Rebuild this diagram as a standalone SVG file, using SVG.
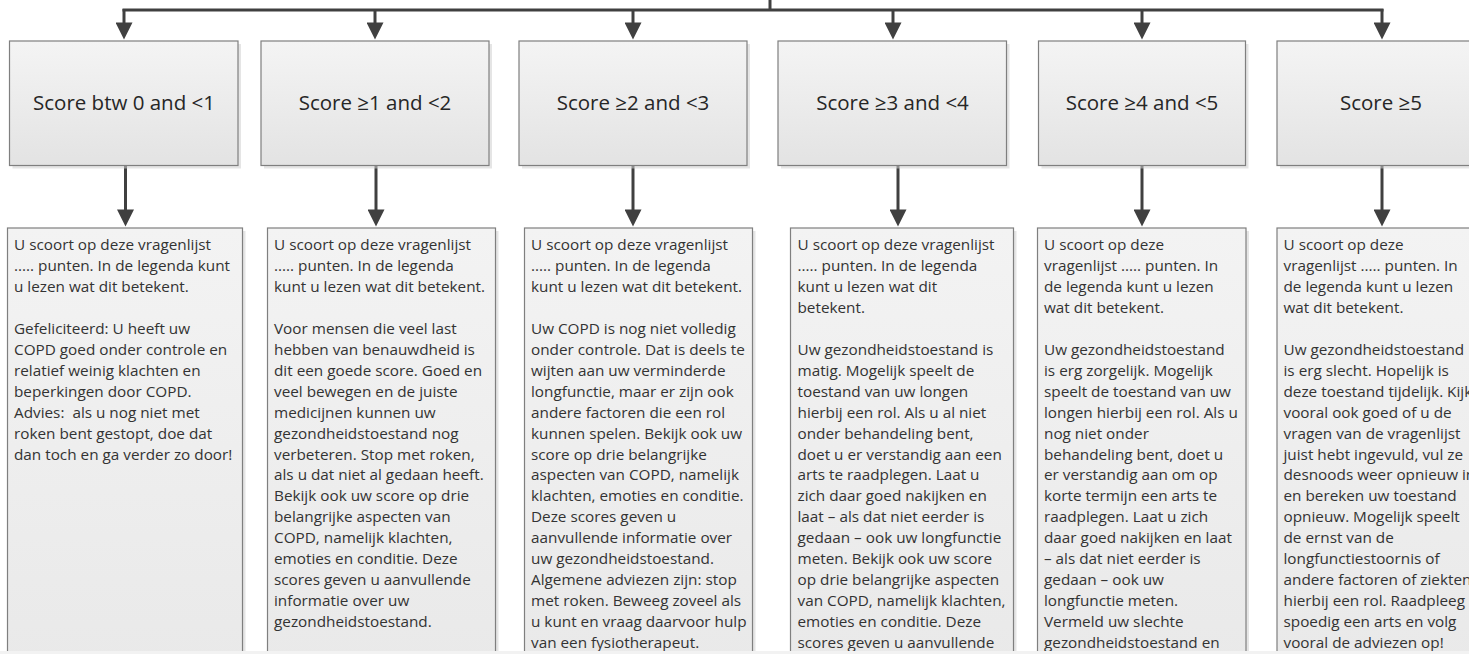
<svg xmlns="http://www.w3.org/2000/svg" width="1469" height="654" viewBox="0 0 1469 654">
<defs>
<linearGradient id="gHead" x1="0" y1="0" x2="0" y2="1">
<stop offset="0" stop-color="#f4f4f4"/>
<stop offset="1" stop-color="#e3e3e3"/>
</linearGradient>
<linearGradient id="gBody" x1="0" y1="0" x2="0" y2="1">
<stop offset="0" stop-color="#f3f3f3"/>
<stop offset="1" stop-color="#e9e9e9"/>
</linearGradient>
<marker id="ah" viewBox="0 0 10 10" refX="5.6" refY="5" markerWidth="18" markerHeight="17" markerUnits="userSpaceOnUse" orient="auto">
<path d="M0,0 L10,5 L0,10 z" fill="#404040"/>
</marker>
</defs>
<style>
.shadow{fill:#cfcfcf;opacity:0.55}
.head{fill:url(#gHead);stroke:#7f7f7f;stroke-width:1.2}
.body{fill:url(#gBody);stroke:#7f7f7f;stroke-width:1.2}
.lbl{font-family:"Open Sans","Liberation Sans",sans-serif;font-size:20.5px;fill:#262626;text-anchor:middle}
.txt{font-family:"Open Sans","Liberation Sans",sans-serif;font-size:15.3px;fill:#333333}
.con{fill:none;stroke:#404040;stroke-width:3}
</style>
<rect width="1469" height="654" fill="#ffffff"/>

<g id="connectors">
<path class="con" d="M770,0 V10"/>
<path class="con" d="M124,10 H1382" stroke-linecap="square"/>
<path class="con" d="M124,9 V32" marker-end="url(#ah)"/>
<path class="con" d="M375,10 V32" marker-end="url(#ah)"/>
<path class="con" d="M633,10 V32" marker-end="url(#ah)"/>
<path class="con" d="M893,10 V32" marker-end="url(#ah)"/>
<path class="con" d="M1142,10 V32" marker-end="url(#ah)"/>
<path class="con" d="M1382,9 V32" marker-end="url(#ah)"/>
<path class="con" d="M125.5,166 V219" marker-end="url(#ah)"/>
<path class="con" d="M376,166 V219" marker-end="url(#ah)"/>
<path class="con" d="M633,166 V219" marker-end="url(#ah)"/>
<path class="con" d="M898,166 V219" marker-end="url(#ah)"/>
<path class="con" d="M1142,166 V219" marker-end="url(#ah)"/>
<path class="con" d="M1382,166 V219" marker-end="url(#ah)"/>
</g>

<g id="score1">
<rect class="shadow" x="12.5" y="44" width="228.5" height="124.5"/>
<rect class="head" x="9.5" y="41" width="228.5" height="124.5"/>
<text class="lbl" x="124" y="110">Score btw 0 and &lt;1</text>
</g>
<g id="score2">
<rect class="shadow" x="264" y="44" width="228" height="124.5"/>
<rect class="head" x="261" y="41" width="228" height="124.5"/>
<text class="lbl" x="375" y="110">Score ≥1 and &lt;2</text>
</g>
<g id="score3">
<rect class="shadow" x="522" y="44" width="228" height="124.5"/>
<rect class="head" x="519" y="41" width="228" height="124.5"/>
<text class="lbl" x="633" y="110">Score ≥2 and &lt;3</text>
</g>
<g id="score4">
<rect class="shadow" x="781" y="44" width="228.5" height="124.5"/>
<rect class="head" x="778" y="41" width="228.5" height="124.5"/>
<text class="lbl" x="892.5" y="110">Score ≥3 and &lt;4</text>
</g>
<g id="score5">
<rect class="shadow" x="1041.5" y="44" width="207" height="124.5"/>
<rect class="head" x="1038.5" y="41" width="207" height="124.5"/>
<text class="lbl" x="1142" y="110">Score ≥4 and &lt;5</text>
</g>
<g id="score6">
<rect class="shadow" x="1280" y="44" width="208" height="124.5"/>
<rect class="head" x="1277" y="41" width="208" height="124.5"/>
<text class="lbl" x="1381" y="110">Score ≥5</text>
</g>

<g id="advice1">
<rect class="shadow" x="10.5" y="231" width="235" height="440"/>
<rect class="body" x="7.5" y="228" width="235" height="440"/>
<text class="txt">
<tspan x="14" y="250">U scoort op deze vragenlijst</tspan>
<tspan x="14" dy="20.95">..... punten. In de legenda kunt</tspan>
<tspan x="14" dy="20.95">u lezen wat dit betekent.</tspan>
<tspan x="14" dy="41.9">Gefeliciteerd: U heeft uw</tspan>
<tspan x="14" dy="20.95">COPD goed onder controle en</tspan>
<tspan x="14" dy="20.95">relatief weinig klachten en</tspan>
<tspan x="14" dy="20.95">beperkingen door COPD.</tspan>
<tspan x="14" dy="20.95">Advies:&#160; als u nog niet met</tspan>
<tspan x="14" dy="20.95">roken bent gestopt, doe dat</tspan>
<tspan x="14" dy="20.95">dan toch en ga verder zo door!</tspan>
</text>
</g>

<g id="advice2">
<rect class="shadow" x="270.5" y="231" width="228" height="440"/>
<rect class="body" x="267.5" y="228" width="228" height="440"/>
<text class="txt">
<tspan x="274" y="250">U scoort op deze vragenlijst</tspan>
<tspan x="274" dy="20.95">..... punten. In de legenda</tspan>
<tspan x="274" dy="20.95">kunt u lezen wat dit betekent.</tspan>
<tspan x="274" dy="41.9">Voor mensen die veel last</tspan>
<tspan x="274" dy="20.95">hebben van benauwdheid is</tspan>
<tspan x="274" dy="20.95">dit een goede score. Goed en</tspan>
<tspan x="274" dy="20.95">veel bewegen en de juiste</tspan>
<tspan x="274" dy="20.95">medicijnen kunnen uw</tspan>
<tspan x="274" dy="20.95">gezondheidstoestand nog</tspan>
<tspan x="274" dy="20.95">verbeteren. Stop met roken,</tspan>
<tspan x="274" dy="20.95">als u dat niet al gedaan heeft.</tspan>
<tspan x="274" dy="20.95">Bekijk ook uw score op drie</tspan>
<tspan x="274" dy="20.95">belangrijke aspecten van</tspan>
<tspan x="274" dy="20.95">COPD, namelijk klachten,</tspan>
<tspan x="274" dy="20.95">emoties en conditie. Deze</tspan>
<tspan x="274" dy="20.95">scores geven u aanvullende</tspan>
<tspan x="274" dy="20.95">informatie over uw</tspan>
<tspan x="274" dy="20.95">gezondheidstoestand.</tspan>
</text>
</g>

<g id="advice3">
<rect class="shadow" x="527.5" y="231" width="228" height="440"/>
<rect class="body" x="524.5" y="228" width="228" height="440"/>
<text class="txt">
<tspan x="531" y="250">U scoort op deze vragenlijst</tspan>
<tspan x="531" dy="20.95">..... punten. In de legenda</tspan>
<tspan x="531" dy="20.95">kunt u lezen wat dit betekent.</tspan>
<tspan x="531" dy="41.9">Uw COPD is nog niet volledig</tspan>
<tspan x="531" dy="20.95">onder controle. Dat is deels te</tspan>
<tspan x="531" dy="20.95">wijten aan uw verminderde</tspan>
<tspan x="531" dy="20.95">longfunctie, maar er zijn ook</tspan>
<tspan x="531" dy="20.95">andere factoren die een rol</tspan>
<tspan x="531" dy="20.95">kunnen spelen. Bekijk ook uw</tspan>
<tspan x="531" dy="20.95">score op drie belangrijke</tspan>
<tspan x="531" dy="20.95">aspecten van COPD, namelijk</tspan>
<tspan x="531" dy="20.95">klachten, emoties en conditie.</tspan>
<tspan x="531" dy="20.95">Deze scores geven u</tspan>
<tspan x="531" dy="20.95">aanvullende informatie over</tspan>
<tspan x="531" dy="20.95">uw gezondheidstoestand.</tspan>
<tspan x="531" dy="20.95">Algemene adviezen zijn: stop</tspan>
<tspan x="531" dy="20.95">met roken. Beweeg zoveel als</tspan>
<tspan x="531" dy="20.95">u kunt en vraag daarvoor hulp</tspan>
<tspan x="531" dy="20.95">van een fysiotherapeut.</tspan>
</text>
</g>

<g id="advice4">
<rect class="shadow" x="793.5" y="231" width="223" height="440"/>
<rect class="body" x="790.5" y="228" width="223" height="440"/>
<text class="txt">
<tspan x="797.5" y="250">U scoort op deze vragenlijst</tspan>
<tspan x="797.5" dy="20.95">..... punten. In de legenda</tspan>
<tspan x="797.5" dy="20.95">kunt u lezen wat dit</tspan>
<tspan x="797.5" dy="20.95">betekent.</tspan>
<tspan x="797.5" dy="41.9">Uw gezondheidstoestand is</tspan>
<tspan x="797.5" dy="20.95">matig. Mogelijk speelt de</tspan>
<tspan x="797.5" dy="20.95">toestand van uw longen</tspan>
<tspan x="797.5" dy="20.95">hierbij een rol. Als u al niet</tspan>
<tspan x="797.5" dy="20.95">onder behandeling bent,</tspan>
<tspan x="797.5" dy="20.95">doet u er verstandig aan een</tspan>
<tspan x="797.5" dy="20.95">arts te raadplegen. Laat u</tspan>
<tspan x="797.5" dy="20.95">zich daar goed nakijken en</tspan>
<tspan x="797.5" dy="20.95">laat – als dat niet eerder is</tspan>
<tspan x="797.5" dy="20.95">gedaan – ook uw longfunctie</tspan>
<tspan x="797.5" dy="20.95">meten. Bekijk ook uw score</tspan>
<tspan x="797.5" dy="20.95">op drie belangrijke aspecten</tspan>
<tspan x="797.5" dy="20.95">van COPD, namelijk klachten,</tspan>
<tspan x="797.5" dy="20.95">emoties en conditie. Deze</tspan>
<tspan x="797.5" dy="20.95">scores geven u aanvullende</tspan>
</text>
</g>

<g id="advice5">
<rect class="shadow" x="1040.5" y="231" width="208.5" height="440"/>
<rect class="body" x="1037.5" y="228" width="208.5" height="440"/>
<text class="txt">
<tspan x="1044" y="250">U scoort op deze</tspan>
<tspan x="1044" dy="20.95">vragenlijst ..... punten. In</tspan>
<tspan x="1044" dy="20.95">de legenda kunt u lezen</tspan>
<tspan x="1044" dy="20.95">wat dit betekent.</tspan>
<tspan x="1044" dy="41.9">Uw gezondheidstoestand</tspan>
<tspan x="1044" dy="20.95">is erg zorgelijk. Mogelijk</tspan>
<tspan x="1044" dy="20.95">speelt de toestand van uw</tspan>
<tspan x="1044" dy="20.95">longen hierbij een rol. Als u</tspan>
<tspan x="1044" dy="20.95">nog niet onder</tspan>
<tspan x="1044" dy="20.95">behandeling bent, doet u</tspan>
<tspan x="1044" dy="20.95">er verstandig aan om op</tspan>
<tspan x="1044" dy="20.95">korte termijn een arts te</tspan>
<tspan x="1044" dy="20.95">raadplegen. Laat u zich</tspan>
<tspan x="1044" dy="20.95">daar goed nakijken en laat</tspan>
<tspan x="1044" dy="20.95">– als dat niet eerder is</tspan>
<tspan x="1044" dy="20.95">gedaan – ook uw</tspan>
<tspan x="1044" dy="20.95">longfunctie meten.</tspan>
<tspan x="1044" dy="20.95">Vermeld uw slechte</tspan>
<tspan x="1044" dy="20.95">gezondheidstoestand en</tspan>
</text>
</g>

<g id="advice6">
<rect class="shadow" x="1280" y="231" width="223" height="440"/>
<rect class="body" x="1277" y="228" width="223" height="440"/>
<text class="txt">
<tspan x="1283.5" y="250">U scoort op deze</tspan>
<tspan x="1283.5" dy="20.95">vragenlijst ..... punten. In</tspan>
<tspan x="1283.5" dy="20.95">de legenda kunt u lezen</tspan>
<tspan x="1283.5" dy="20.95">wat dit betekent.</tspan>
<tspan x="1283.5" dy="41.9">Uw gezondheidstoestand</tspan>
<tspan x="1283.5" dy="20.95">is erg slecht. Hopelijk is</tspan>
<tspan x="1283.5" dy="20.95">deze toestand tijdelijk. Kijk</tspan>
<tspan x="1283.5" dy="20.95">vooral ook goed of u de</tspan>
<tspan x="1283.5" dy="20.95">vragen van de vragenlijst</tspan>
<tspan x="1283.5" dy="20.95">juist hebt ingevuld, vul ze</tspan>
<tspan x="1283.5" dy="20.95">desnoods weer opnieuw in</tspan>
<tspan x="1283.5" dy="20.95">en bereken uw toestand</tspan>
<tspan x="1283.5" dy="20.95">opnieuw. Mogelijk speelt</tspan>
<tspan x="1283.5" dy="20.95">de ernst van de</tspan>
<tspan x="1283.5" dy="20.95">longfunctiestoornis of</tspan>
<tspan x="1283.5" dy="20.95">andere factoren of ziekten</tspan>
<tspan x="1283.5" dy="20.95">hierbij een rol. Raadpleeg</tspan>
<tspan x="1283.5" dy="20.95">spoedig een arts en volg</tspan>
<tspan x="1283.5" dy="20.95">vooral de adviezen op!</tspan>
</text>
</g>

<rect x="0" y="651" width="1469" height="3" fill="#f2f2f2"/>
</svg>
